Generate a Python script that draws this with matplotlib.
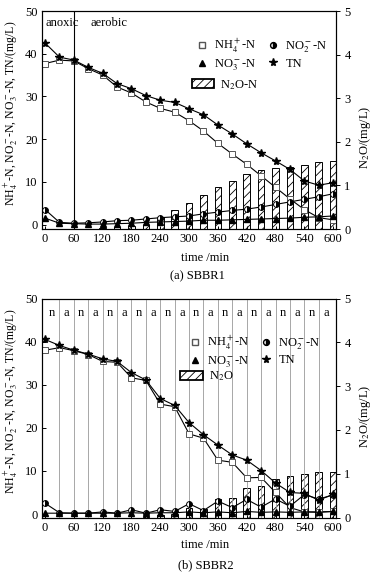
import numpy as np
import matplotlib
matplotlib.use("Agg")
import matplotlib.pyplot as plt
from matplotlib.lines import Line2D
from matplotlib.patches import Patch

plt.rcParams['font.family'] = ['Liberation Serif', 'DejaVu Serif']
plt.rcParams['font.size'] = 9
plt.rcParams['mathtext.fontset'] = 'stix'
plt.rcParams['hatch.linewidth'] = 0.6

W, H = 386, 576
t = np.arange(0, 601, 30)

# SBBR1
nh4_1 = [37.7, 38.5, 38.3, 36.5, 35.0, 32.2, 30.8, 28.7, 27.2, 26.3, 24.3,
         21.9, 19.0, 16.5, 14.1, 11.4, 8.7, 6.0, 3.5, 1.6, 1.1]
no2_1 = [3.5, 0.5, 0.3, 0.4, 0.6, 0.9, 1.0, 1.3, 1.6, 1.8, 2.0,
         2.5, 2.9, 3.3, 3.6, 4.1, 4.7, 5.3, 5.9, 6.5, 7.2]
no3_1 = [1.5, 0.3, 0.2, 0.1, 0.1, 0.2, 0.3, 0.5, 0.6, 0.7, 0.8,
         1.0, 1.0, 1.1, 1.2, 1.3, 1.4, 1.5, 1.7, 1.8, 2.0]
tn_1 = [42.5, 39.2, 38.5, 36.8, 35.4, 33.0, 31.8, 30.2, 29.1, 28.6, 27.1,
        25.7, 23.3, 21.2, 18.9, 16.8, 14.9, 12.9, 10.2, 9.2, 9.8]
n2o_1 = [0, 0, 0, 0, 0.03, 0.05, 0.07, 0.1, 0.28, 0.43, 0.59,
         0.79, 0.96, 1.09, 1.27, 1.35, 1.39, 1.43, 1.47, 1.54, 1.56]

# SBBR2
nh4_2 = [38.0, 38.6, 37.9, 37.0, 35.4, 35.2, 31.6, 31.0, 25.5, 24.9, 18.6,
         17.6, 12.5, 12.0, 8.4, 8.5, 5.0, 1.5, 0.5, 0.5, 0.6]
no2_2 = [2.5, 0.3, 0.2, 0.2, 0.5, 0.2, 1.0, 0.2, 1.0, 0.6, 2.4,
         0.8, 3.0, 1.5, 3.4, 1.6, 3.5, 1.8, 4.5, 3.5, 4.4]
no3_2 = [0.2, 0.2, 0.2, 0.2, 0.2, 0.2, 0.3, 0.2, 0.3, 0.3, 0.5,
         0.3, 0.5, 0.3, 0.6, 0.4, 0.5, 0.4, 0.5, 0.4, 0.6]
tn_2 = [40.5, 39.1, 38.0, 37.1, 36.0, 35.4, 32.8, 31.1, 26.8, 25.2, 21.2,
        18.4, 16.0, 13.7, 12.5, 10.1, 7.2, 5.0, 4.8, 3.2, 4.6]
n2o_2 = [0, 0, 0, 0, 0, 0, 0, 0.02, 0.05, 0.09, 0.21,
         0.19, 0.42, 0.45, 0.68, 0.72, 0.87, 0.95, 0.99, 1.03, 1.05]

phases = ['n', 'a'] * 10

fig = plt.figure(figsize=(W / 100, H / 100), dpi=100)


def px_rect(x0, y0, x1, y1):
    return [x0 / W, 1 - y1 / H, (x1 - x0) / W, (y1 - y0) / H]


def panel(rect, ymin, nh4, no2, no3, tn, n2o, n2o_label, leg_xy, patch_xy,
          patch_len, rlab_y):
    ax = fig.add_axes(rect)
    ax2 = ax.twinx()
    ax2.bar(t, n2o, width=14, color='white', edgecolor='black',
            hatch='////', linewidth=0.7, zorder=2)
    ax.set_zorder(ax2.get_zorder() + 1)
    ax.patch.set_visible(False)
    ms = 4.2
    ax.plot(t, nh4, '-', color='black', lw=0.8, marker='s', ms=ms,
            mfc='white', mec='#555555', mew=0.7)
    ax.plot(t, no2, '-', color='black', lw=0.8, marker='o', ms=ms,
            fillstyle='right', mfc='black', mfcalt='white', mec='black', mew=0.7)
    ax.plot(t, no3, '-', color='black', lw=0.8, marker='^', ms=ms,
            mfc='black', mec='black')
    ax.plot(t, tn, '-', color='black', lw=0.8, marker='*', ms=ms + 1.5,
            mfc='black', mec='black')
    ax.set_xlim(-7, 606)
    ax.set_ylim(ymin, 50)
    ax2.set_ylim(0, 5)
    ax.set_xticks(np.arange(0, 601, 60))
    ax.set_yticks([0, 10, 20, 30, 40, 50])
    ax2.set_yticks([0, 1, 2, 3, 4, 5])
    for a in (ax, ax2):
        for s in a.spines.values():
            s.set_linewidth(0.8)
    ax.tick_params(axis='y', direction='in', length=3, width=0.7, pad=3)
    ax.tick_params(axis='x', direction='in', length=2, width=0.7, pad=3)
    ax2.tick_params(axis='y', direction='out', length=3, width=0.7, pad=3)
    ax.set_ylabel('NH$_4^+$-N, NO$_2^-$-N, NO$_3^-$-N, TN/(mg/L)', fontsize=8.5)
    ax.yaxis.set_label_coords(-0.075, 0.53)
    ax2.set_ylabel('N$_2$O/(mg/L)', rotation=90)
    ax2.yaxis.set_label_coords(1.07, rlab_y)

    h = [Line2D([], [], ls='none', marker='s', ms=ms, mfc='white', mec='#555555'),
         Line2D([], [], ls='none', marker='o', ms=ms, fillstyle='right',
                mfc='black', mfcalt='white', mec='black'),
         Line2D([], [], ls='none', marker='^', ms=ms, mfc='black', mec='black'),
         Line2D([], [], ls='none', marker='*', ms=ms + 1.5, mfc='black', mec='black')]
    labels = ['NH$_4^+$-N', 'NO$_2^-$-N', 'NO$_3^-$-N', 'TN']
    order = [0, 2, 1, 3]
    leg = ax.legend([h[i] for i in order], [labels[i] for i in order],
                    ncol=2, frameon=False, loc='upper left',
                    bbox_to_anchor=leg_xy, handlelength=1.0,
                    handletextpad=0.5, columnspacing=0.8, labelspacing=0.2,
                    borderaxespad=0, borderpad=0)
    ax.add_artist(leg)
    ax.legend([Patch(facecolor='white', edgecolor='black', hatch='////', lw=1.3)],
              [n2o_label], frameon=False, loc='upper left',
              bbox_to_anchor=patch_xy, handlelength=patch_len, handleheight=0.8,
              handletextpad=0.5, borderaxespad=0, borderpad=0)
    return ax, ax2


ax1, _ = panel(px_rect(41.7, 11, 336, 229), -1.05, nh4_1, no2_1, no3_1, tn_1,
               n2o_1, 'N$_2$O-N', (0.523, 0.881), (0.51, 0.694), 1.75, 0.42)
ax1.axvline(60, color='black', lw=0.8)
ax1.text(0, 47.3, 'anoxic', va='center', ha='left')
ax1.text(95, 47.3, 'aerobic', va='center', ha='left')
fig.text(205 / W, 1 - 258 / H, 'time /min', ha='center', va='center')
fig.text(197 / W, 1 - 276 / H, '(a) SBBR1', ha='center', va='center')

ax3, _ = panel(px_rect(41.7, 298.5, 336, 517.5), -0.8, nh4_2, no2_2, no3_2, tn_2,
               n2o_2, 'N$_2$O', (0.499, 0.84), (0.47, 0.675), 1.85, 0.46)
for x in t[1:-1]:
    ax3.axvline(x, color='#999999', lw=0.6, zorder=0)
for i, p in enumerate(phases):
    ax3.text(15 + 30 * i, 46.7, p, ha='center', va='center')
fig.text(205 / W, 1 - 545 / H, 'time /min', ha='center', va='center')
fig.text(206 / W, 1 - 565 / H, '(b) SBBR2', ha='center', va='center')

fig.savefig('out.png', dpi=100)
